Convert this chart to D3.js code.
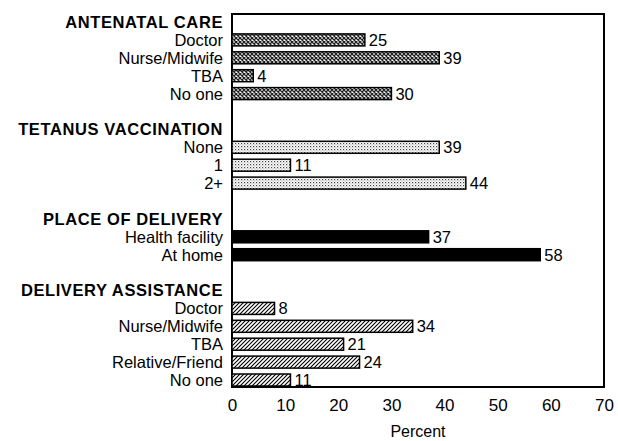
<!DOCTYPE html>
<html>
<head>
<meta charset="utf-8">
<script src="https://cdn.jsdelivr.net/npm/d3@7"></script>
<style>
  body { margin: 0; background: #fff; }
  text { font-family: "Liberation Sans", Arial, sans-serif; fill: #000; }
</style>
</head>
<body>
<div id="chart"></div>
<script>
// rows of the chart, top to bottom (headings + items + blank spacers)
var rowLabels = ["ANTENATAL CARE", "Doctor", "Nurse/Midwife", "TBA", "No one", "",
                 "TETANUS VACCINATION", "None", "1", "2+", "",
                 "PLACE OF DELIVERY", "Health facility", "At home", "",
                 "DELIVERY ASSISTANCE", "Doctor", "Nurse/Midwife", "TBA", "Relative/Friend", "No one"];
var rowValues = [null, 25, 39, 4, 30, null,
                 null, 39, 11, 44, null,
                 null, 37, 58, null,
                 null, 8, 34, 21, 24, 11];
var rowGroup = ["h", "anc", "anc", "anc", "anc", "",
                "h", "tet", "tet", "tet", "",
                "h", "del", "del", "",
                "h", "asst", "asst", "asst", "asst", "asst"];
var xTicks = [0, 10, 20, 30, 40, 50, 60, 70];

var margin = {top: 14, right: 14, bottom: 54, left: 232};

var svg = d3.select("#chart").append("svg")
    .attr("width", 618)
    .attr("height", 441);

// patterns
var defs = svg.append("defs");

var p1 = defs.append("pattern").attr("id", "pat-anc")
    .attr("patternUnits", "userSpaceOnUse").attr("width", 4).attr("height", 4);
p1.append("rect").attr("width", 4).attr("height", 4).attr("fill", "#fff");
p1.append("path").attr("d", "M0,0L4,4M4,0L0,4").attr("stroke", "#222").attr("stroke-width", 1.3);

var p2 = defs.append("pattern").attr("id", "pat-tet")
    .attr("patternUnits", "userSpaceOnUse").attr("width", 3).attr("height", 3);
p2.append("rect").attr("width", 3).attr("height", 3).attr("fill", "#fff");
p2.append("rect").attr("x", 0).attr("y", 0).attr("width", 1.2).attr("height", 1.2).attr("fill", "#444");
p2.append("rect").attr("x", 1.5).attr("y", 1.5).attr("width", 1).attr("height", 1).attr("fill", "#888");

var p3 = defs.append("pattern").attr("id", "pat-asst")
    .attr("patternUnits", "userSpaceOnUse").attr("width", 4).attr("height", 4);
p3.append("rect").attr("width", 4).attr("height", 4).attr("fill", "#fff");
p3.append("path").attr("d", "M-1,5L5,-1M-1,1L1,-1M3,5L5,3").attr("stroke", "#000").attr("stroke-width", 1.1);

var fills = {anc: "url(#pat-anc)", tet: "url(#pat-tet)", del: "#000", asst: "url(#pat-asst)"};

var g = svg.append("g")
    .attr("transform", "translate(" + margin.left + "," + margin.top + ")");

var x = d3.scaleLinear()
    .domain([0, 70])
    .range([0, 372]);

var y = d3.scalePoint()
    .domain(d3.range(rowLabels.length))
    .range([8, 366]);

// frame
g.append("rect")
    .attr("x", 0).attr("y", 0)
    .attr("width", x(70)).attr("height", 373)
    .attr("fill", "none")
    .attr("stroke", "#000")
    .attr("stroke-width", 2);

var rows = rowLabels.map(function (d, i) {
    return {label: d, value: rowValues[i], group: rowGroup[i], i: i};
});

// bars
g.selectAll(".bar")
    .data(rows.filter(function (d) { return d.value !== null; }))
    .enter().append("rect")
    .attr("class", "bar")
    .attr("x", x(0))
    .attr("y", function (d) { return y(d.i) - 6; })
    .attr("width", function (d) { return x(d.value) - x(0); })
    .attr("height", 12)
    .attr("fill", function (d) { return fills[d.group]; })
    .attr("stroke", "#000")
    .attr("stroke-width", 1.5);

// value labels
g.selectAll(".val")
    .data(rows.filter(function (d) { return d.value !== null; }))
    .enter().append("text")
    .attr("class", "val")
    .attr("x", function (d) { return x(d.value) + 4; })
    .attr("y", function (d) { return y(d.i); })
    .attr("dy", "0.36em")
    .style("font-size", "16.5px")
    .text(function (d) { return d.value; });

// row labels
g.selectAll(".lab")
    .data(rows.filter(function (d) { return d.label !== ""; }))
    .enter().append("text")
    .attr("class", "lab")
    .attr("x", -9)
    .attr("y", function (d) { return y(d.i); })
    .attr("dy", "0.36em")
    .attr("text-anchor", "end")
    .style("font-size", "16.5px")
    .style("font-weight", function (d) { return d.group === "h" ? "bold" : "normal"; })
    .style("letter-spacing", function (d) { return d.group === "h" ? "0.6px" : "0px"; })
    .text(function (d) { return d.label; });

// x axis
var xAxis = g.append("g")
    .attr("transform", "translate(0,373)")
    .call(d3.axisBottom(x).tickValues(xTicks).tickSize(0).tickPadding(12));
xAxis.select(".domain").remove();
xAxis.selectAll("text")
    .style("font-size", "17px")
    .style("font-family", "'Liberation Sans', Arial, sans-serif");

g.append("text")
    .attr("x", x(35))
    .attr("y", 423)
    .attr("text-anchor", "middle")
    .style("font-size", "16px")
    .text("Percent");
</script>
</body>
</html>
